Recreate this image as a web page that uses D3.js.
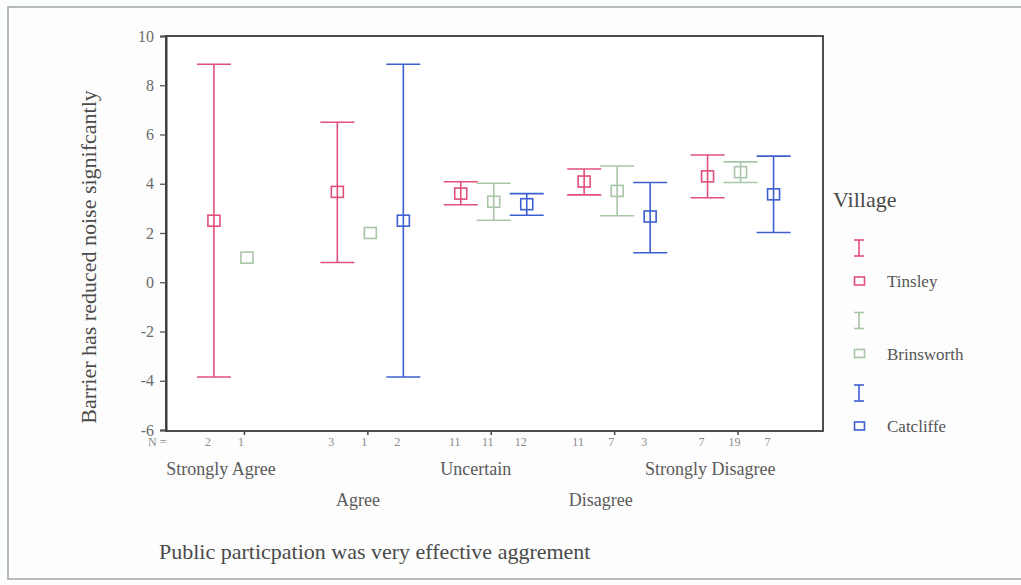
<!DOCTYPE html>
<html>
<head>
<meta charset="utf-8">
<script src="https://cdn.jsdelivr.net/npm/d3@7"></script>
<style>
  html, body { margin: 0; padding: 0; background: #fcfdfd; }
  svg { display: block; }
  text { font-family: "Liberation Serif", "Times New Roman", serif; }
</style>
</head>
<body>
<svg id="chart" width="1021" height="585"></svg>
<script>
// ---- data ----
const categories = ["Strongly Agree", "Agree", "Uncertain", "Disagree", "Strongly Disagree"];
const villages = ["Tinsley", "Brinsworth", "Catcliffe"];
const colors = ["#e0507a", "#a9c6a6", "#3d5fd0"];
// mean values per village (rows) and category (columns); null = no case
const means = [
  [2.5, 3.67, 3.6, 4.09, 4.3],
  [1.0, 2.0, 3.27, 3.71, 4.47],
  [null, 2.5, 3.17, 2.67, 3.57]
];
const ciLow = [
  [-3.85, 0.8, 3.15, 3.55, 3.43],
  [null, null, 2.52, 2.7, 4.05],
  [null, -3.85, 2.72, 1.2, 2.02]
];
const ciHigh = [
  [8.85, 6.5, 4.08, 4.6, 5.17],
  [null, null, 4.02, 4.72, 4.89],
  [null, 8.85, 3.6, 4.05, 5.12]
];
const counts = [
  [2, 3, 11, 11, 7],
  [1, 1, 11, 7, 19],
  [null, 2, 12, 3, 7]
];
const yTicks = [-6, -4, -2, 0, 2, 4, 6, 8, 10];

// ---- layout ----
const svg = d3.select("#chart");
const plot = { left: 166, right: 823, top: 36, bottom: 431 };
const serif = "'Liberation Serif', 'Times New Roman', serif";

// page frame (scanned page border)
svg.append("rect").attr("x", 8).attr("y", 7).attr("width", 1040).attr("height", 572)
  .attr("fill", "#fdfdfd").attr("stroke", "#a0a4a8").attr("stroke-width", 1.5);

const y = d3.scaleLinear().domain([-6, 10]).range([430, 36]);
const x = d3.scalePoint().domain(categories).range([plot.left, plot.right]).padding(0.662).align(0.477);
const off = d3.scalePoint().domain(villages).range([-30, 36]);

// plot frame
svg.append("rect").attr("x", plot.left).attr("y", plot.top)
  .attr("width", plot.right - plot.left).attr("height", plot.bottom - plot.top)
  .attr("fill", "#ffffff").attr("stroke", "#3a3a3a").attr("stroke-width", 1.8);

// y axis
const yAxis = d3.axisLeft(y).tickValues(yTicks).tickSize(6).tickPadding(6)
  .tickFormat(d => String(d));
const gy = svg.append("g").attr("transform", `translate(${plot.left},0)`).call(yAxis)
  .attr("font-family", serif).attr("font-size", 16);
gy.select(".domain").attr("stroke", "#3a3a3a").attr("stroke-width", 2);
gy.selectAll(".tick line").attr("stroke", "#555").attr("stroke-width", 1.3);
gy.selectAll(".tick text").attr("fill", "#6a6a6a");

// x axis ticks
const xAxis = d3.axisBottom(x).tickSize(4).tickFormat("");
const gx = svg.append("g").attr("transform", `translate(0,${plot.bottom})`).call(xAxis);
gx.select(".domain").remove();
gx.selectAll(".tick line").attr("stroke", "#444").attr("stroke-width", 1.5);

// error bars & markers
const cap = 17;
villages.forEach((v, vi) => {
  categories.forEach((c, ci) => {
    const m = means[vi][ci];
    if (m === null) return;
    const cx = x(c) + off(v);
    const g = svg.append("g").attr("stroke", colors[vi]).attr("fill", "none").attr("stroke-width", 1.6);
    const lo = ciLow[vi][ci], hi = ciHigh[vi][ci];
    if (lo !== null && hi !== null) {
      g.append("line").attr("x1", cx).attr("x2", cx).attr("y1", y(lo)).attr("y2", y(hi));
      g.append("line").attr("x1", cx - cap).attr("x2", cx + cap).attr("y1", y(lo)).attr("y2", y(lo));
      g.append("line").attr("x1", cx - cap).attr("x2", cx + cap).attr("y1", y(hi)).attr("y2", y(hi));
    }
    g.append("rect").attr("x", cx - 6).attr("y", y(m) - 5.5).attr("width", 12).attr("height", 11);
  });
});

// N labels
svg.append("text").attr("x", 148).attr("y", 446).attr("fill", "#8a8a8a")
  .style("font-size", "12px").text("N =");
villages.forEach((v, vi) => {
  categories.forEach((c, ci) => {
    const n = counts[vi][ci];
    if (n === null) return;
    svg.append("text").attr("x", x(c) + off(v) - 6).attr("y", 446)
      .attr("text-anchor", "middle").attr("fill", "#8a8a8a")
      .style("font-size", "12px").text(n);
  });
});

// category labels (staggered)
categories.forEach((c, ci) => {
  const t = svg.append("text").attr("y", ci % 2 === 0 ? 475 : 506)
    .attr("text-anchor", "middle").attr("fill", "#5a5a5a")
    .style("font-size", "18px").text(c);
  const w = t.node().getComputedTextLength();
  t.attr("x", x(c) - 0.21 * w);
});

// axis titles
svg.append("text").attr("x", 159).attr("y", 559).attr("fill", "#4a4a4a")
  .style("font-size", "22px").text("Public particpation was very effective aggrement");
svg.append("text").attr("transform", "translate(96,257) rotate(-90)")
  .attr("text-anchor", "middle").attr("fill", "#4a4a4a")
  .style("font-size", "22px").text("Barrier has reduced noise signifcantly");

// legend
svg.append("text").attr("x", 833).attr("y", 207).attr("fill", "#4a4a4a")
  .style("font-size", "22px").text("Village");
villages.forEach((v, vi) => {
  const base = 248 + vi * 72.5;
  const g = svg.append("g").attr("stroke", colors[vi]).attr("fill", "none").attr("stroke-width", 1.6);
  const lx = 859;
  g.append("line").attr("x1", lx).attr("x2", lx).attr("y1", base - 8).attr("y2", base + 8);
  g.append("line").attr("x1", lx - 5).attr("x2", lx + 5).attr("y1", base - 8).attr("y2", base - 8);
  g.append("line").attr("x1", lx - 5).attr("x2", lx + 5).attr("y1", base + 8).attr("y2", base + 8);
  g.append("rect").attr("x", lx - 4.5).attr("y", base + 29).attr("width", 10).attr("height", 8);
  svg.append("text").attr("x", 887).attr("y", base + 39).attr("fill", "#555")
    .style("font-size", "17px").text(v);
});
</script>
</body>
</html>
